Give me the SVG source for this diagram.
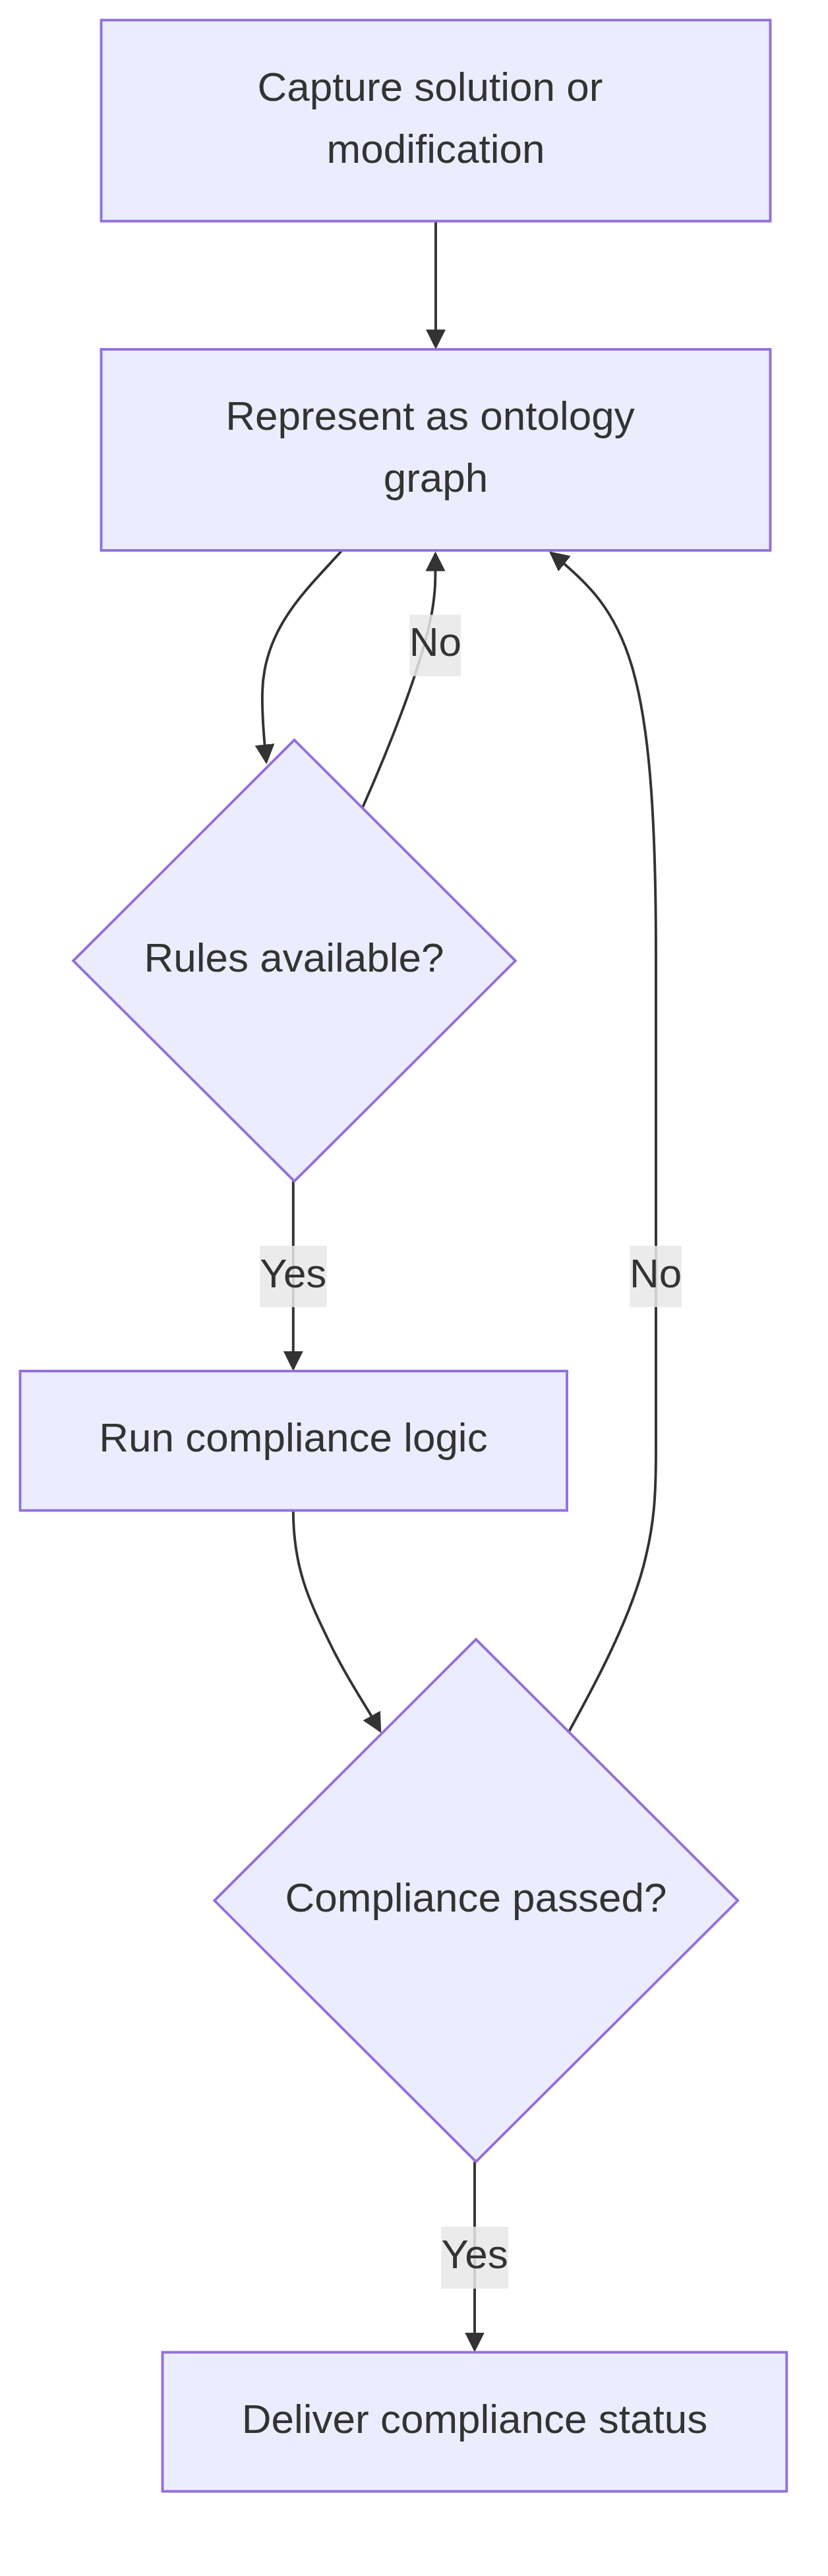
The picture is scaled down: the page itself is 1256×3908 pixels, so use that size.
<svg xmlns="http://www.w3.org/2000/svg" width="1256" height="3908" viewBox="0 0 1256 3908">
<style>
  .node { fill: #ECECFF; stroke: #9370DB; stroke-width: 3.9; }
  .txt { font-family: "Liberation Sans", Arial, Helvetica, sans-serif; font-size: 62px; fill: #333333; text-anchor: middle; }
  .edge { fill: none; stroke: #333333; stroke-width: 3.9; }
  .lblbg { fill: #E8E8E8; fill-opacity: 0.85; }
</style>
<defs>
  <marker id="arrow" viewBox="0 0 10 10" refX="8.7" refY="5" markerUnits="userSpaceOnUse" markerWidth="30" markerHeight="30" orient="auto">
    <path d="M0,0 L10,5 L0,10 z" fill="#333333"/>
  </marker>
</defs>
<rect width="1256" height="3908" fill="#FFFFFF"/>

<g id="connectors">
  <path class="edge" d="M661,335.5 L661,526" marker-end="url(#arrow)"/>
  <path class="edge" d="M518.8,835 C470,890 400,950 398,1050 C397,1090 401,1125 404,1155.5" marker-end="url(#arrow)"/>
  <path class="edge" d="M549.6,1226 C590,1135 640,1010 655,930 C661,895 660.5,880 660.5,840.5" marker-end="url(#arrow)"/>
  <path class="edge" d="M444.8,1792 L444.8,2076" marker-end="url(#arrow)"/>
  <path class="edge" d="M444.8,2291 C444.8,2380 470,2430 500,2492 C525,2545 555,2587 576.4,2625.5" marker-end="url(#arrow)"/>
  <path class="edge" d="M863,2627 C900,2560 960,2450 980,2360 C992,2310 995,2270 995,2200 L995,1450 C995,1000 950,930 836,839" marker-end="url(#arrow)"/>
  <path class="edge" d="M720,3279.5 L720,3564.6" marker-end="url(#arrow)"/>

  <g id="label-no-1">
    <rect class="lblbg" x="621.4" y="932.6" width="77.7" height="93.3"/>
    <text class="txt" x="660.3" y="995">No</text>
  </g>
  <g id="label-yes-1">
    <rect class="lblbg" x="394.2" y="1890" width="101.3" height="93"/>
    <text class="txt" x="444.8" y="1952.7">Yes</text>
  </g>
  <g id="label-no-2">
    <rect class="lblbg" x="955.5" y="1890" width="78.5" height="93"/>
    <text class="txt" x="994.7" y="1952.7">No</text>
  </g>
  <g id="label-yes-2">
    <rect class="lblbg" x="669.4" y="3378" width="101.6" height="94"/>
    <text class="txt" x="720.2" y="3441">Yes</text>
  </g>
</g>

<g id="capture">
  <rect class="node" x="153.5" y="30.5" width="1015" height="305"/>
  <text class="txt" x="652.5" y="152.6">Capture solution or</text>
  <text class="txt" x="661" y="246.8">modification</text>
</g>

<g id="represent">
  <rect class="node" x="153.5" y="530" width="1015" height="305"/>
  <text class="txt" x="652.5" y="652">Represent as ontology</text>
  <text class="txt" x="661" y="745.8">graph</text>
</g>

<g id="rules">
  <polygon class="node" points="446.5,1122.6 781.8,1457.6 446.5,1792 111.2,1457.6"/>
  <text class="txt" x="446" y="1474">Rules available?</text>
</g>

<g id="run">
  <rect class="node" x="30.5" y="2080" width="829.5" height="211.5"/>
  <text class="txt" x="445" y="2202">Run compliance logic</text>
</g>

<g id="passed">
  <polygon class="node" points="722,2487 1119.2,2883.3 722,3279.5 325.3,2883.3"/>
  <text class="txt" x="722" y="2900">Compliance passed?</text>
</g>

<g id="deliver">
  <rect class="node" x="246.5" y="3568.6" width="946.8" height="211"/>
  <text class="txt" x="720" y="3691">Deliver compliance status</text>
</g>
</svg>
